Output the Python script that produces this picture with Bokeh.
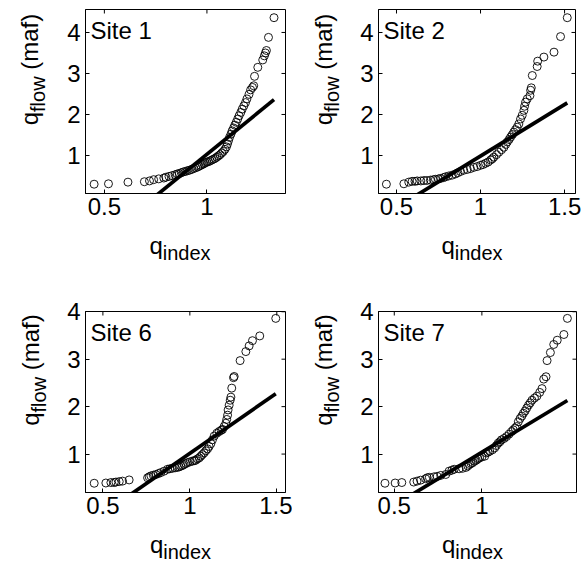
import numpy as np
from bokeh.plotting import figure
from bokeh.models import Label, FixedTicker, NumeralTickFormatter, Range1d
from bokeh.layouts import column, row
from bokeh.embed import file_html
from bokeh.resources import INLINE

# ---------------- data ----------------
site_names = ["Site 1", "Site 2", "Site 6", "Site 7"]
x_tick_values = [[0.5, 1], [0.5, 1, 1.5], [0.5, 1, 1.5], [0.5, 1]]
y_tick_values = [1, 2, 3, 4]
x_label_main = "q"
x_label_sub = "index"
y_label_main = "q"
y_label_sub = "flow"
y_label_rest = "(maf)"

site1_qindex = [0.45, 0.52, 0.615, 0.695, 0.72, 0.74, 0.765, 0.79, 0.80, 0.815, 0.83, 0.845, 0.855, 0.865,
                0.875, 0.885, 0.895, 0.905, 0.915, 0.925, 0.935, 0.945, 0.955, 0.962, 0.97, 0.978, 0.985,
                0.992, 1.0, 1.008, 1.016, 1.024, 1.032, 1.04, 1.048, 1.056, 1.064, 1.072, 1.08, 1.088,
                1.095, 1.10, 1.105, 1.11, 1.117, 1.123, 1.13, 1.136, 1.143, 1.15, 1.157, 1.165, 1.172,
                1.18, 1.188, 1.195, 1.205, 1.213, 1.222, 1.228, 1.232, 1.248, 1.272, 1.28, 1.285, 1.29,
                1.30, 1.327]
site1_qflow = [0.30, 0.31, 0.35, 0.36, 0.38, 0.41, 0.43, 0.45, 0.47, 0.49, 0.51, 0.53, 0.55, 0.56,
               0.58, 0.60, 0.61, 0.63, 0.64, 0.66, 0.68, 0.70, 0.72, 0.74, 0.76, 0.78, 0.80,
               0.82, 0.84, 0.85, 0.87, 0.89, 0.91, 0.93, 0.96, 0.99, 1.02, 1.06, 1.10, 1.15,
               1.21, 1.28, 1.36, 1.44, 1.52, 1.60, 1.67, 1.74, 1.81, 1.89, 1.97, 2.05, 2.13,
               2.21, 2.29, 2.38, 2.49, 2.60, 2.66, 2.70, 2.93, 3.15, 3.33, 3.43, 3.50, 3.56,
               3.88, 4.36]

site2_qindex = [0.44, 0.544, 0.573, 0.593, 0.61, 0.623, 0.645, 0.663, 0.68, 0.702, 0.72, 0.732, 0.75,
                0.762, 0.78, 0.792, 0.81, 0.831, 0.851, 0.865, 0.881, 0.90, 0.921, 0.94, 0.96, 0.98,
                1.0, 1.015, 1.03, 1.045, 1.06, 1.07, 1.079, 1.095, 1.109, 1.125, 1.139, 1.15, 1.159,
                1.17, 1.179, 1.19, 1.198, 1.208, 1.218, 1.228, 1.238, 1.248, 1.258, 1.262, 1.268,
                1.278, 1.294, 1.298, 1.302, 1.308, 1.337, 1.34, 1.377, 1.437, 1.476, 1.516]
site2_qflow = [0.30, 0.31, 0.35, 0.37, 0.37, 0.38, 0.38, 0.39, 0.39, 0.40, 0.41, 0.42, 0.43,
               0.44, 0.46, 0.48, 0.50, 0.52, 0.55, 0.58, 0.61, 0.64, 0.66, 0.68, 0.71, 0.73,
               0.76, 0.78, 0.81, 0.84, 0.89, 0.92, 0.96, 1.02, 1.08, 1.14, 1.20, 1.27, 1.33,
               1.39, 1.45, 1.51, 1.57, 1.63, 1.69, 1.77, 1.89, 1.98, 2.10, 2.20, 2.30,
               2.38, 2.46, 2.59, 2.65, 2.95, 3.17, 3.30, 3.40, 3.52, 3.90, 4.36]

site6_qindex = [0.45, 0.517, 0.546, 0.565, 0.575, 0.594, 0.613, 0.651, 0.757, 0.766, 0.776, 0.79, 0.805,
                0.82, 0.833, 0.852, 0.872, 0.885, 0.90, 0.915, 0.929, 0.938, 0.948, 0.958, 0.967,
                0.977, 0.987, 1.0, 1.015, 1.025, 1.034, 1.044, 1.054, 1.063, 1.072, 1.082, 1.092,
                1.102, 1.111, 1.121, 1.13, 1.14, 1.155, 1.168, 1.18, 1.188, 1.197, 1.207, 1.212,
                1.217, 1.22, 1.226, 1.232, 1.236, 1.241, 1.251, 1.255, 1.289, 1.322, 1.341, 1.36,
                1.402, 1.494]
site6_qflow = [0.385, 0.39, 0.40, 0.40, 0.41, 0.42, 0.43, 0.455, 0.50, 0.52, 0.54, 0.555, 0.57,
               0.59, 0.61, 0.64, 0.68, 0.69, 0.70, 0.71, 0.72, 0.73, 0.745, 0.76, 0.78,
               0.80, 0.82, 0.835, 0.85, 0.86, 0.87, 0.90, 0.92, 0.955, 0.99, 1.025, 1.07,
               1.11, 1.16, 1.22, 1.30, 1.38, 1.44, 1.475, 1.50, 1.52, 1.58, 1.65, 1.73,
               1.82, 1.93, 2.03, 2.135, 2.20, 2.39, 2.61, 2.635, 2.97, 3.16, 3.28, 3.39,
               3.49, 3.86]

site7_qindex = [0.447, 0.505, 0.543, 0.611, 0.63, 0.65, 0.679, 0.688, 0.70, 0.727, 0.745, 0.765, 0.794,
                0.813, 0.829, 0.842, 0.87, 0.89, 0.91, 0.92, 0.929, 0.938, 0.948, 0.958, 0.968,
                0.978, 0.987, 1.0, 1.016, 1.025, 1.035, 1.045, 1.06, 1.073, 1.083, 1.093, 1.103,
                1.112, 1.127, 1.141, 1.155, 1.17, 1.179, 1.19, 1.199, 1.208, 1.218, 1.228, 1.237,
                1.247, 1.256, 1.266, 1.276, 1.286, 1.30, 1.314, 1.33, 1.343, 1.353, 1.366, 1.372,
                1.391, 1.41, 1.43, 1.468, 1.488]
site7_qflow = [0.385, 0.39, 0.40, 0.41, 0.43, 0.45, 0.48, 0.50, 0.51, 0.52, 0.53, 0.55, 0.57,
               0.64, 0.66, 0.68, 0.69, 0.70, 0.72, 0.75, 0.78, 0.80, 0.82, 0.85, 0.87,
               0.90, 0.92, 0.94, 0.955, 1.025, 1.04, 1.06, 1.09, 1.13, 1.18, 1.23, 1.26,
               1.30, 1.33, 1.37, 1.42, 1.475, 1.51, 1.55, 1.58, 1.68, 1.75, 1.80, 1.86,
               1.91, 1.97, 2.03, 2.08, 2.135, 2.18, 2.22, 2.30, 2.38, 2.58, 2.63, 2.97,
               3.14, 3.31, 3.40, 3.52, 3.86]

fit_slope = [4.07, 2.51, 2.545, 2.236]
fit_intercept = [-3.04, -1.524, -1.529, -1.198]

qindex_all = [site1_qindex, site2_qindex, site6_qindex, site7_qindex]
qflow_all = [site1_qflow, site2_qflow, site6_qflow, site7_qflow]

# ---------------- layout / style ----------------
FONT = "Liberation Sans"
FS = 24          # main font size px
FS_SUB = 20      # subscript font size px
SUB_DROP = 7     # subscript baseline drop px
W_Q = 0.556 * FS
W_SPACE = 0.278 * FS
W_SUB_FLOW = 1.778 * FS_SUB
W_REST = 2.333 * FS
W_SUB_INDEX = 2.39 * FS_SUB
MID = 0.30       # em fraction between alphabetic baseline and "middle"

STRIP_W = 64     # width of the y-label strip left of each panel
# panel figures: width, height, borders (left, right, top, bottom), ranges
geom = [
    dict(w=228, h=229, bl=20, br=7, bt=9, bb=36, xr=(0.408, 1.383), yr=(0.073, 4.56)),
    dict(w=228, h=229, bl=22, br=9, bt=9, bb=36, xr=(0.393, 1.565), yr=(0.073, 4.56)),
    dict(w=228, h=238, bl=21, br=7, bt=21, bb=36, xr=(0.40, 1.55), yr=(0.19, 4.005)),
    dict(w=228, h=238, bl=22, br=8, bt=21, bb=36, xr=(0.41, 1.54), yr=(0.19, 4.005)),
]
XSTRIP_H = [61, 61, 47, 47]


def style_axis(ax, standoff):
    ax.axis_line_color = "black"
    ax.axis_line_width = 1
    ax.major_tick_in = 4
    ax.major_tick_out = 0
    ax.major_tick_line_color = "black"
    ax.minor_tick_line_color = None
    ax.major_label_text_font = FONT
    ax.major_label_text_color = "black"
    ax.major_label_text_font_size = f"{FS}px"
    ax.major_label_standoff = standoff


def blank(w, h):
    s = figure(width=w, height=h, output_backend="svg", toolbar_location=None,
               x_range=Range1d(0, w), y_range=Range1d(0, h),
               x_axis_location=None, y_axis_location=None,
               min_border_left=0, min_border_right=0, min_border_top=0, min_border_bottom=0)
    s.xgrid.visible = False
    s.ygrid.visible = False
    s.outline_line_color = None
    s.background_fill_color = "white"
    s.border_fill_color = "white"
    return s


def lab(fig, x, y, text, size, angle=0.0, align="left", baseline="alphabetic"):
    fig.add_layout(Label(x=x, y=y, x_units="screen", y_units="screen", text=text,
                         text_font=FONT, text_font_size=f"{size}px", text_color="black",
                         angle=angle, text_align=align, text_baseline=baseline))


def make_panel(i):
    g = geom[i]
    fh = g["h"] - g["bt"] - g["bb"]
    p = figure(width=g["w"], height=g["h"], output_backend="svg", toolbar_location=None,
               x_range=Range1d(*g["xr"]), y_range=Range1d(*g["yr"]),
               min_border_left=g["bl"], min_border_right=g["br"],
               min_border_top=g["bt"], min_border_bottom=g["bb"])
    p.xgrid.visible = False
    p.ygrid.visible = False
    p.outline_line_color = "black"
    p.outline_line_width = 1
    p.background_fill_color = "white"
    p.border_fill_color = "white"

    fmt = NumeralTickFormatter(format="0.[0]")
    p.xaxis.ticker = FixedTicker(ticks=x_tick_values[i])
    p.yaxis.ticker = FixedTicker(ticks=y_tick_values)
    p.xaxis.formatter = fmt
    p.yaxis.formatter = fmt
    style_axis(p.xaxis[0], 4)
    style_axis(p.yaxis[0], 5)

    # mirrored inward ticks on top and right edges
    xt = x_tick_values[i]
    p.ray(x=xt, y=[g["yr"][1]] * len(xt), length=4, length_units="screen",
          angle=-np.pi / 2, line_color="black", line_width=1)
    p.ray(x=[g["xr"][1]] * len(y_tick_values), y=y_tick_values, length=4, length_units="screen",
          angle=np.pi, line_color="black", line_width=1)

    xs = qindex_all[i]
    ys = qflow_all[i]
    p.scatter(xs, ys, marker="circle", size=8, fill_color=None, line_color="black", line_width=0.9)
    lx = np.array([min(xs), max(xs)])
    ly = fit_slope[i] * lx + fit_intercept[i]
    p.line(lx, ly, line_color="black", line_width=3.7)

    lab(p, 5, fh - 21, site_names[i], FS)
    return p


def make_ylabel_strip(i):
    g = geom[i]
    h = g["h"]
    fh = h - g["bt"] - g["bb"]
    s = blank(STRIP_W, h)
    centre_up = h - (g["bt"] + fh / 2) - 4  # label centre, measured upward from strip bottom
    total = W_Q + W_SUB_FLOW + W_SPACE + W_REST
    start = centre_up - total / 2            # lower end of the rotated label
    bx = STRIP_W + g["bl"] - 48              # baseline x of main text
    rot = np.pi / 2
    # pieces positioned by their centres (rotation about the centre)
    lab(s, bx - MID * FS, start + W_Q / 2, y_label_main, FS, rot, "center", "middle")
    lab(s, bx + SUB_DROP - MID * FS_SUB, start + W_Q + W_SUB_FLOW / 2, y_label_sub, FS_SUB,
        rot, "center", "middle")
    lab(s, bx - MID * FS, start + W_Q + W_SUB_FLOW + W_SPACE + W_REST / 2, y_label_rest, FS,
        rot, "center", "middle")
    return s


def make_xlabel_strip(i):
    g = geom[i]
    w = STRIP_W + g["w"]
    h = XSTRIP_H[i]
    s = blank(w, h)
    fw = g["w"] - g["bl"] - g["br"]
    centre = STRIP_W + g["bl"] + fw / 2 - 5
    total = W_Q + W_SUB_INDEX
    x0 = centre - total / 2
    base_down = 52 - g["bb"]
    lab(s, x0, h - base_down, x_label_main, FS)
    lab(s, x0 + W_Q, h - base_down - SUB_DROP, x_label_sub, FS_SUB)
    return s


panels = [make_panel(i) for i in range(4)]
ystrips = [make_ylabel_strip(i) for i in range(4)]
xstrips = [make_xlabel_strip(i) for i in range(4)]

layout = column(
    row(ystrips[0], panels[0], ystrips[1], panels[1]),
    row(xstrips[0], xstrips[1]),
    row(ystrips[2], panels[2], ystrips[3], panels[3]),
    row(xstrips[2], xstrips[3]),
)

open("out.html", "w").write(file_html(layout, INLINE))
